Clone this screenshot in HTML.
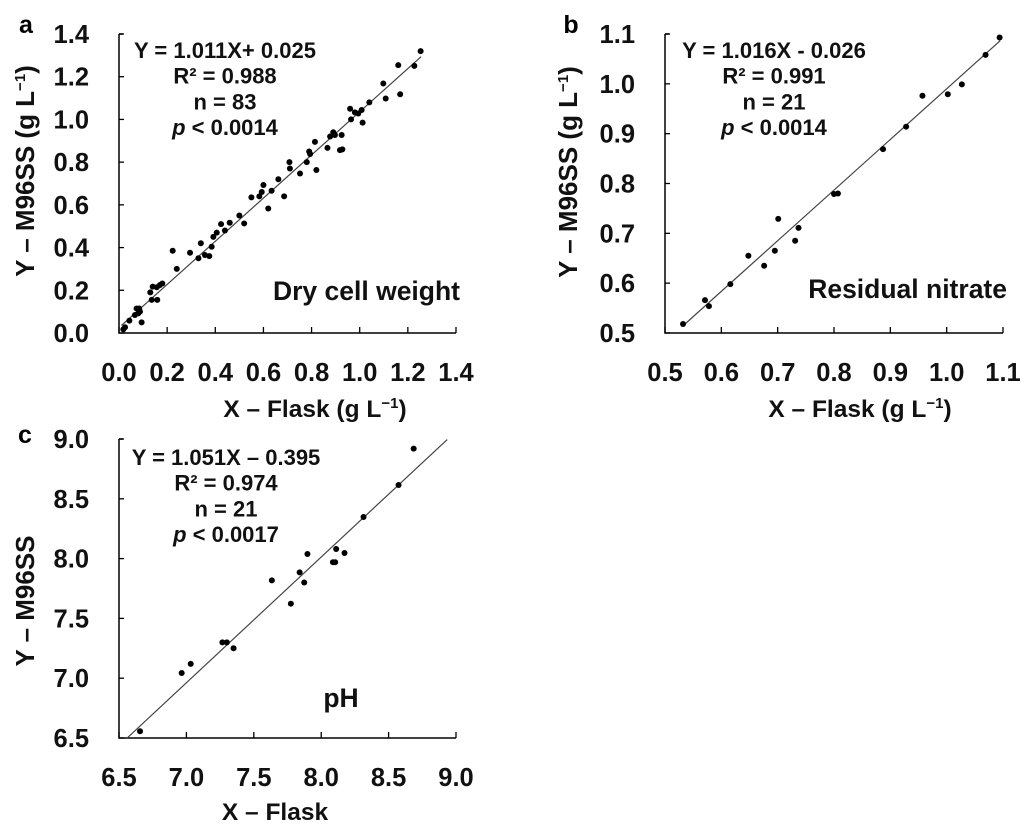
<!DOCTYPE html>
<html><head><meta charset="utf-8"><style>
body{margin:0;background:#fff}
svg{display:block;font-family:"Liberation Sans",Arial,sans-serif;font-weight:bold}
</style></head><body>
<svg id="chart" width="1024" height="830" viewBox="0 0 1024 830" xmlns="http://www.w3.org/2000/svg"></svg>
<script>
const aX=[0.018,0.025,0.043,0.066,0.073,0.084,0.08,0.087,0.094,0.13,0.14,0.136,0.159,0.157,0.17,0.18,0.223,0.24,0.295,0.33,0.34,0.357,0.375,0.385,0.392,0.406,0.424,0.44,0.46,0.50,0.52,0.55,0.583,0.593,0.60,0.62,0.634,0.662,0.686,0.708,0.71,0.752,0.78,0.79,0.794,0.814,0.82,0.866,0.877,0.89,0.897,0.918,0.928,0.925,0.96,0.964,0.98,0.994,1.008,1.012,1.04,1.098,1.108,1.16,1.168,1.227,1.253];
const aY=[0.017,0.027,0.058,0.084,0.115,0.115,0.092,0.10,0.05,0.19,0.217,0.155,0.155,0.214,0.225,0.232,0.385,0.30,0.376,0.35,0.42,0.365,0.36,0.404,0.45,0.47,0.51,0.48,0.516,0.55,0.513,0.635,0.64,0.66,0.693,0.583,0.666,0.72,0.64,0.80,0.77,0.747,0.80,0.85,0.838,0.895,0.763,0.867,0.92,0.94,0.927,0.856,0.86,0.927,1.05,1.0,1.033,1.028,1.044,0.985,1.08,1.168,1.098,1.254,1.118,1.251,1.32];
const bX=[0.532,0.571,0.578,0.616,0.648,0.676,0.695,0.701,0.731,0.737,0.80,0.807,0.887,0.928,0.957,1.002,1.027,1.069,1.094];
const bY=[0.518,0.566,0.554,0.598,0.655,0.635,0.665,0.729,0.685,0.711,0.779,0.78,0.869,0.914,0.976,0.979,0.999,1.058,1.093];
const cX=[6.656,6.965,7.032,7.267,7.30,7.35,7.634,7.775,7.84,7.874,7.898,8.087,8.104,8.111,8.173,8.314,8.574,8.686];
const cY=[6.556,7.043,7.12,7.30,7.30,7.25,7.818,7.623,7.885,7.80,8.038,7.97,7.97,8.08,8.047,8.348,8.615,8.92];
const aTicks=["0.0","0.2","0.4","0.6","0.8","1.0","1.2","1.4"];
const bTicks=["0.5","0.6","0.7","0.8","0.9","1.0","1.1"];
const cTicks=["6.5","7.0","7.5","8.0","8.5","9.0"];
const aFit=[1.011,0.025,0.01,1.255];
const bFit=[1.016,-0.026,0.535,1.095];
const cFit=[1.051,-0.395,6.56,8.935];

const svg=document.getElementById('chart');
const NS='http://www.w3.org/2000/svg';
function mk(tag,attrs,parent,txt){const e=document.createElementNS(NS,tag);for(const k in attrs)e.setAttribute(k,attrs[k]);if(txt!==undefined)e.textContent=txt;(parent||svg).appendChild(e);return e;}

function panel(p){
  const g=mk('g',{});
  
  
  const t=p.ticks.map(Number);const lo=t[0],hi=t[t.length-1];
  const sx=v=>p.x0+(v-lo)/(hi-lo)*(p.x1-p.x0);
  const sy=v=>p.y0-(v-lo)/(hi-lo)*(p.y0-p.y1);
  const ax=mk('path',{d:`M${p.x0},${p.y1} H${p.x0+4} M${p.x0},${p.y1} V${p.y0} H${p.x1}`,stroke:'#000','stroke-width':1.5,fill:'none'},g);
  
  
  p.ticks.forEach(s=>{const v=Number(s);
    mk('line',{x1:sx(v),x2:sx(v),y1:p.y0,y2:p.y0-6,stroke:'#000','stroke-width':1.3},g);
    mk('line',{x1:p.x0,x2:p.x0+5,y1:sy(v),y2:sy(v),stroke:'#000','stroke-width':1.3},g);
    const xl=mk('text',{x:sx(v),y:p.y0+48,'text-anchor':'middle','font-size':25.5,fill:'#111'},g,s);
    
    
    const yl=mk('text',{x:p.x0-30,y:sy(v)+9,'text-anchor':'end','font-size':25.5,fill:'#111'},g,s);
    
    
  });
  const f=p.fit;
  const ln=mk('line',{x1:sx(f[2]),y1:sy(f[0]*f[2]+f[1]),x2:sx(f[3]),y2:sy(f[0]*f[3]+f[1]),stroke:'#444','stroke-width':1.2},g);
  
  
  p.xs.forEach((x,i)=>{
    const c=mk('circle',{cx:sx(x),cy:sy(p.ys[i]),r:3,fill:'#000'},g);
    
    
  });
  const lt=mk('text',{x:p.letter[0],y:p.letter[1],'text-anchor':'middle','font-size':25},g,p.id);
  
  
  const xt=mk('text',{x:p.xt[0],y:p.xt[1],'text-anchor':'middle','font-size':24.5,fill:'#111'},g);
  xt.innerHTML=p.xtitle;
  
  
  const yt=mk('text',{x:0,y:0,'text-anchor':'middle','font-size':26,fill:'#111',transform:`translate(${p.yt[0]},${p.yt[1]}) rotate(-90)`},g);
  yt.innerHTML=p.ytitle;
  
  
  const an=mk('g',{'font-size':22,'text-anchor':'middle',fill:'#111'},g);
  
  
  p.stats.forEach((s,i)=>{const e=mk('text',{x:p.statX,y:p.statY+i*25.7},an);e.innerHTML=s;});
  const lb=mk('text',{x:p.lab[0],y:p.lab[1],'text-anchor':p.lab[2],'font-size':26.5,fill:'#111'},g,p.label);
  
  
}
const sup='<tspan dy="-9" font-size="15">−1</tspan><tspan dy="9">)</tspan>';
panel({id:'a',x0:119,x1:456,y0:333,y1:34,ticks:aTicks,xs:aX,ys:aY,fit:aFit,letter:[26,33],
  xt:[315,417],yt:[34,171],xtitle:'X – Flask (g L'+sup,ytitle:'Y – M96SS (g L'+sup,
  stats:['Y = 1.011X+ 0.025','R² = 0.988','n = 83','<tspan font-style="italic">p</tspan> &lt; 0.0014'],statX:225,statY:58,
  lab:[460,300,'end'],label:'Dry cell weight'});
panel({id:'b',x0:665,x1:1003,y0:333,y1:34,ticks:bTicks,xs:bX,ys:bY,fit:bFit,letter:[571,33],
  xt:[860,417],yt:[577,172],xtitle:'X – Flask (g L'+sup,ytitle:'Y – M96SS (g L'+sup,
  stats:['Y = 1.016X - 0.026','R² = 0.991','n = 21','<tspan font-style="italic">p</tspan> &lt; 0.0014'],statX:774,statY:58,
  lab:[1007,298,'end'],label:'Residual nitrate'});
panel({id:'c',x0:119,x1:456,y0:738,y1:439,ticks:cTicks,xs:cX,ys:cY,fit:cFit,letter:[25,443],
  xt:[275,820],yt:[34,601],xtitle:'X – Flask',ytitle:'Y – M96SS',
  stats:['Y = 1.051X – 0.395','R² = 0.974','n = 21','<tspan font-style="italic">p</tspan> &lt; 0.0017'],statX:226,statY:465,
  lab:[341,707,'middle'],label:'pH'});
</script>
</body></html>
